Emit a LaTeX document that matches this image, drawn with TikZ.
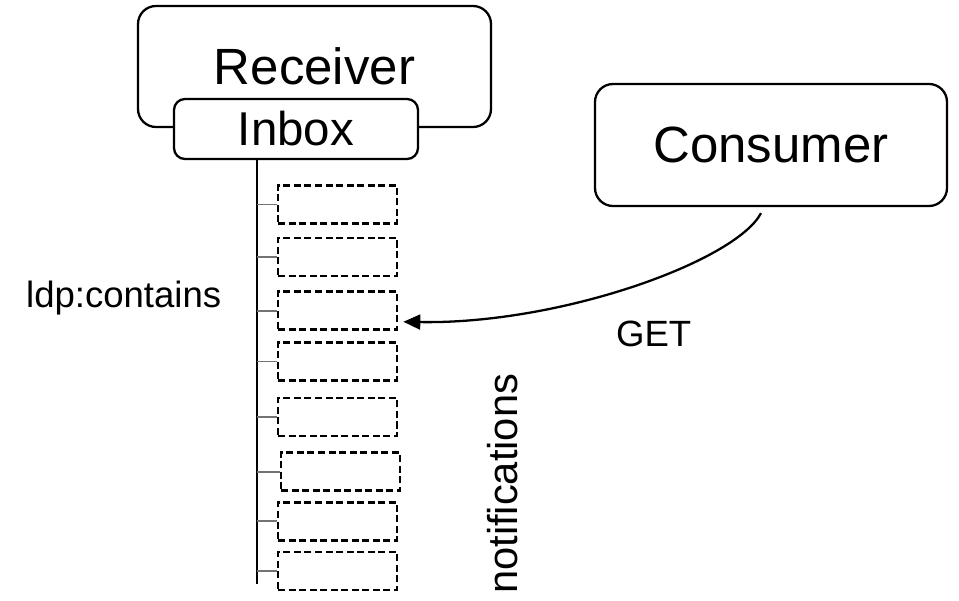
\documentclass[tikz,border=0pt]{standalone}
\usepackage{fontspec}
\setmainfont{Liberation Sans}
\usetikzlibrary{positioning,arrows.meta}

\begin{document}
\begin{tikzpicture}[>=Stealth,line width=1.3pt,
    bigbox/.style={draw,rounded corners=0.36cm,fill=white,font=\fontsize{29}{34}\selectfont},
    inboxbox/.style={draw,rounded corners=0.22cm,fill=white,minimum width=4.88cm,minimum height=1.2cm,font=\fontsize{27}{32}\selectfont},
    msg/.style={draw,line width=1.5pt,dash pattern=on 4pt off 2pt,minimum width=2.38cm,minimum height=0.76cm},
    branch/.style={draw=black!55,line width=1pt},
    lbl/.style={font=\fontsize{20.8}{25}\selectfont,inner sep=0pt}]
  \useasboundingbox (0,0) rectangle (19.18,12);
  \node[bigbox,minimum width=7.06cm,minimum height=2.42cm] (receiver) at (6.29,10.67) {Receiver};
  \node[inboxbox] (inbox) at (5.92,9.42) {Inbox};
  \node[bigbox,minimum width=7.04cm,minimum height=2.44cm] (consumer) at (15.42,9.1) {Consumer};

  % the container's members
  \node[msg] (m1) at (6.75,7.91) {};
  \node[msg,below=0.24cm of m1] (m2) {};
  \node[msg,below=0.26cm of m2] (m3) {};
  \node[msg,below=0.2cm of m3] (m4) {};
  \node[msg,below=0.3cm of m4] (m5) {};
  \node[msg,below=0.28cm of m5,xshift=0.06cm] (m6) {};
  \node[msg,below=0.18cm of m6,xshift=-0.06cm] (m7) {};
  \node[msg,below=0.18cm of m7] (m8) {};

  \coordinate (top) at ([xshift=-0.78cm]inbox.south);
  \draw (top) -- ([yshift=0.14cm]top |- m8.south);
  \path[branch]
    (top |- m1.west) -- (m1.west)
    (top |- m2.west) -- (m2.west)
    (top |- m3.west) -- (m3.west)
    (top |- m4.west) -- (m4.west)
    (top |- m5.west) -- (m5.west)
    (top |- m6.west) -- (m6.west)
    (top |- m7.west) -- (m7.west)
    (top |- m8.west) -- (m8.west);

  \draw[-{Triangle[length=0.34cm,width=0.3cm]}] ([xshift=-0.2cm,yshift=-0.12cm]consumer.south)
    to[out=-118,in=-1,out distance=1.09cm,in distance=3.14cm] ([xshift=0.1cm,yshift=-0.22cm]m3.east);

  \node[lbl,anchor=base west] (contains) at (0.5,5.86) {ldp:contains};
  \node[lbl,anchor=base west] (get) at (12.3,5.08) {GET};
  \node[lbl,font=\fontsize{23.7}{28}\selectfont,rotate=90,anchor=base west] (notes) at (10.34,0.1) {notifications};
\end{tikzpicture}
\end{document}
